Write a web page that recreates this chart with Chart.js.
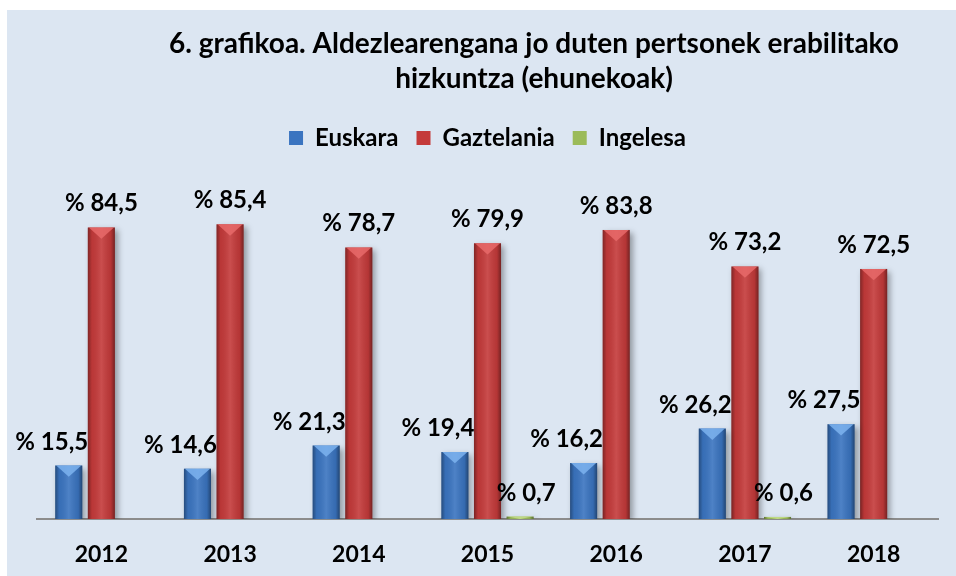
<!DOCTYPE html>
<html lang="eu">
<head>
<meta charset="utf-8">
<title>6. grafikoa</title>
<script src="https://cdn.jsdelivr.net/npm/chart.js@4.4.1/dist/chart.umd.min.js"></script>
<style>
    html, body { margin: 0; padding: 0; background: #fff; }
    .frame {
        position: absolute;
        left: 7px; top: 10px;
        width: 949px; height: 566px;
        background: #DCE6F2;
    }
    .frame canvas { display: block; }
</style>
</head>
<body>
<div class="frame">
    <canvas id="langChart" width="949" height="566"></canvas>
</div>
<script>
// ── Datuak ───────────────────────────────────────────────────

const years      = ['2012', '2013', '2014', '2015', '2016', '2017', '2018'];
const euskara    = [15.5, 14.6, 21.3, 19.4, 16.2, 26.2, 27.5];
const gaztelania = [84.5, 85.4, 78.7, 79.9, 83.8, 73.2, 72.5];
const ingelesa   = [null, null, null, 0.7, null, 0.6, null];

const titleLines = [
    '6. grafikoa. Aldezlearengana jo duten pertsonek erabilitako',
    'hizkuntza (ehunekoak)',
];

const FONT = 'Lato, "Open Sans", sans-serif';

// ── Pluginak ─────────────────────────────────────────────────

// titulua, apur bat eskuinera lekualdatuta (jatorrizkoan bezala)
const titlePlugin = {
    id: 'offsetTitle',
    afterDraw(chart) {
        const ctx = chart.ctx;
        ctx.save();
        ctx.font = `bold 28px ${FONT}`;
        ctx.fillStyle = '#000';
        ctx.textAlign = 'center';
        ctx.textBaseline = 'alphabetic';
        ctx.fillText(titleLines[0], 527, 43);
        ctx.fillText(titleLines[1], 527, 78);
        ctx.restore();
    },
};

// legendaren azpian tarte gehiago
const legendGapPlugin = {
    id: 'legendGap',
    beforeInit(chart) {
        const fit = chart.legend.fit;
        chart.legend.fit = function () {
            fit.bind(chart.legend)();
            this.height += 14;
        };
    },
};

// barren itzala
const shadowPlugin = {
    id: 'barShadow',
    beforeDatasetsDraw(chart) {
        const ctx = chart.ctx;
        ctx.save();
        ctx.shadowColor   = 'rgba(0, 0, 0, 0.35)';
        ctx.shadowBlur    = 6;
        ctx.shadowOffsetX = 3;
        ctx.shadowOffsetY = 3;
    },
    afterDatasetsDraw(chart) {
        chart.ctx.restore();
    },
};

// bolumen itxura: ertz ilunak eta goiko triangelu argia
const bevelColors = ['#7DB3EE', '#E86A6A', '#C4DE8A'];

const bevelPlugin = {
    id: 'barBevel',
    afterDatasetsDraw(chart) {
        const ctx = chart.ctx;
        chart.data.datasets.forEach((ds, i) => {
            chart.getDatasetMeta(i).data.forEach((bar, j) => {
                if (ds.data[j] == null) return;
                const { x, y, base, width } = bar.getProps(['x', 'y', 'base', 'width'], true);
                const left = x - width / 2;
                const right = x + width / 2;
                const h = base - y;

                const g = ctx.createLinearGradient(left, 0, right, 0);
                g.addColorStop(0,    'rgba(0, 0, 0, 0.35)');
                g.addColorStop(0.15, 'rgba(0, 0, 0, 0.05)');
                g.addColorStop(0.5,  'rgba(255, 255, 255, 0.10)');
                g.addColorStop(0.85, 'rgba(0, 0, 0, 0.08)');
                g.addColorStop(1,    'rgba(0, 0, 0, 0.40)');
                ctx.fillStyle = g;
                ctx.fillRect(left, y, width, h);

                const tip = Math.min(width / 2.4, h);
                ctx.beginPath();
                ctx.moveTo(left + 1, y);
                ctx.lineTo(right - 1, y);
                ctx.lineTo(x, y + tip);
                ctx.closePath();
                ctx.fillStyle = bevelColors[i];
                ctx.globalAlpha = 0.85;
                ctx.fill();
                ctx.globalAlpha = 1;
            });
        });
    },
};

// balio-etiketak ("% 84,5")
const labelOffsets = [-17, 0, 6];

const valueLabelPlugin = {
    id: 'valueLabels',
    afterDatasetsDraw(chart) {
        const ctx = chart.ctx;
        ctx.save();
        ctx.font = `bold 24px ${FONT}`;
        ctx.fillStyle = '#000';
        ctx.textAlign = 'center';
        ctx.textBaseline = 'alphabetic';
        chart.data.datasets.forEach((ds, i) => {
            chart.getDatasetMeta(i).data.forEach((bar, j) => {
                const v = ds.data[j];
                if (v == null) return;
                const txt = '% ' + v.toFixed(1).replace('.', ',');
                ctx.fillText(txt, bar.x + labelOffsets[i], bar.y - 16);
            });
        });
        ctx.restore();
    },
};

// ── Grafikoa ─────────────────────────────────────────────────

new Chart(document.getElementById('langChart'), {
    type: 'bar',
    data: {
        labels: years,
        datasets: [
            { label: 'Euskara',    data: euskara,    backgroundColor: '#3A74C0' },
            { label: 'Gaztelania', data: gaztelania, backgroundColor: '#C43A3A' },
            { label: 'Ingelesa',   data: ingelesa,   backgroundColor: '#9BBB59' },
        ],
    },
    options: {
        responsive: false,
        animation: false,
        categoryPercentage: 0.76,
        barPercentage: 0.83,
        layout: {
            padding: { top: 98, left: 30, right: 18, bottom: 7 },
        },
        plugins: {
            title: { display: false },
            tooltip: { enabled: false },
            legend: {
                position: 'top',
                labels: {
                    boxWidth: 14,
                    boxHeight: 14,
                    padding: 18,
                    color: '#000',
                    font: { family: FONT, size: 24, weight: 'bold' },
                },
            },
        },
        scales: {
            x: {
                grid: { display: false },
                border: { color: '#8C8C8C', width: 2 },
                ticks: {
                    color: '#000',
                    padding: 14,
                    font: { family: FONT, size: 23, weight: 'bold' },
                },
                afterFit(scale) { scale.height = 50; },
            },
            y: {
                display: false,
                min: 0,
                max: 100,
            },
        },
    },
    plugins: [legendGapPlugin, titlePlugin, shadowPlugin, bevelPlugin, valueLabelPlugin],
});
</script>
</body>
</html>
